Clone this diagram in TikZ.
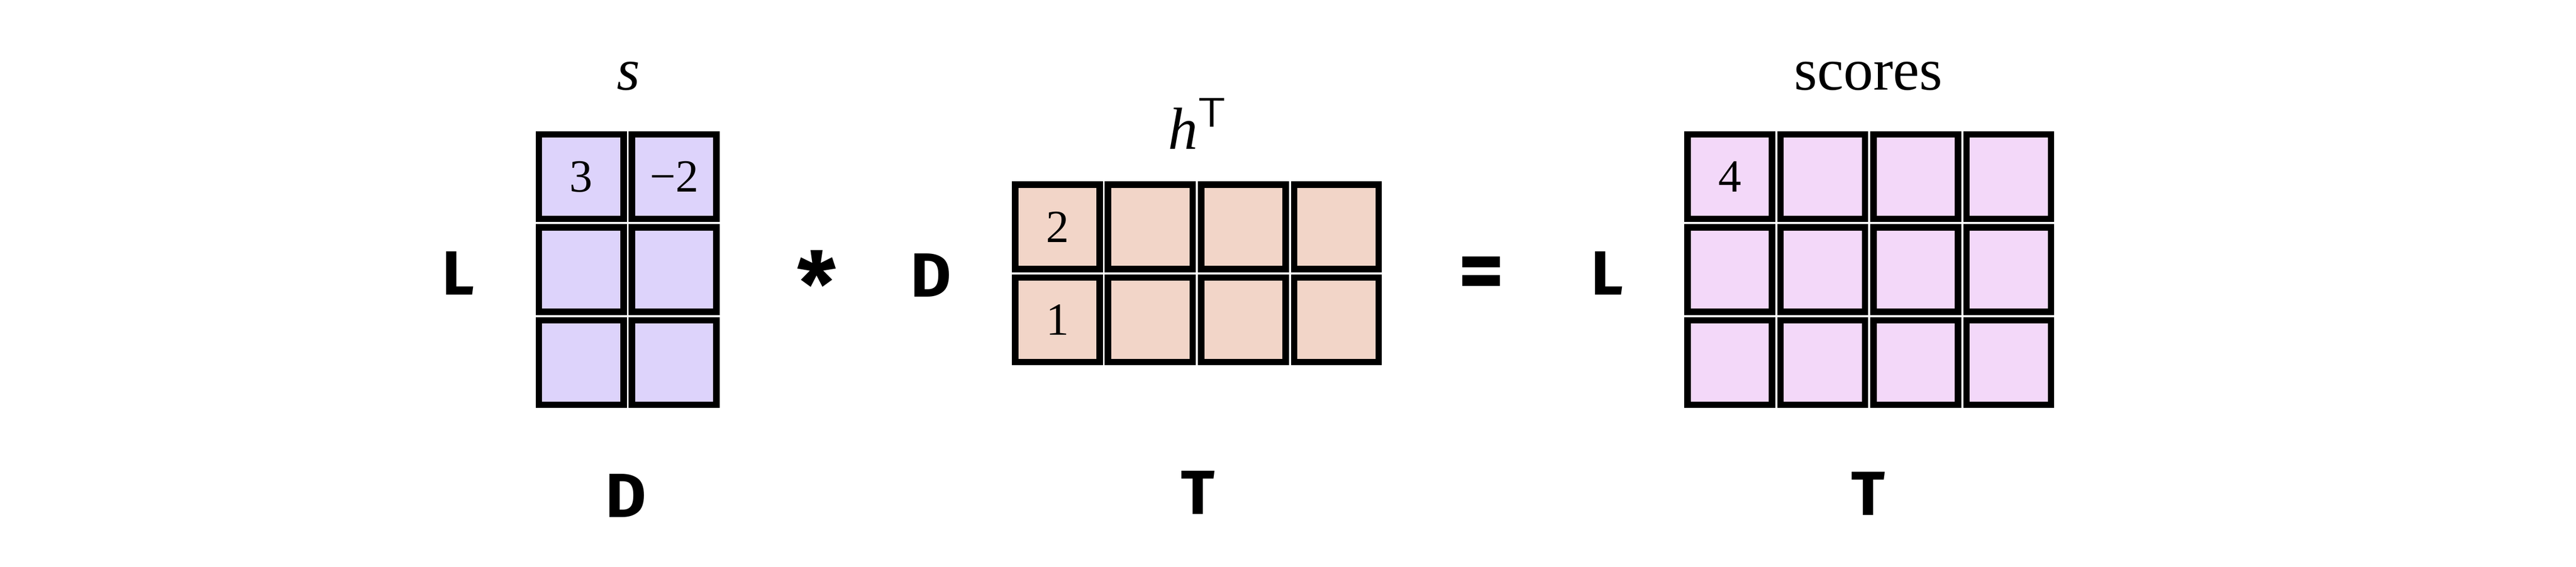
\documentclass[tikz,border=0pt]{standalone}
\usepackage{fontspec}
\setmainfont{Liberation Serif}
\newfontfamily\handfont{Fira Sans}
\usepackage{xcolor}
\usetikzlibrary{positioning}
\definecolor{query}{RGB}{221,211,251}
\definecolor{key}{RGB}{242,213,200}
\definecolor{score}{RGB}{243,216,249}
\tikzstyle{cell}=[rectangle, draw=black, line width=2.2pt, minimum size=1.0cm, inner sep=0pt, font=\fontsize{15.5}{18}\selectfont]
\tikzstyle{matname}=[font=\fontsize{20}{24}\selectfont]
\tikzstyle{dimlabel}=[font=\handfont\bfseries\fontsize{21}{25}\selectfont]
\tikzstyle{oplabel}=[font=\handfont\bfseries\fontsize{30}{36}\selectfont]
\tikzset{y=-1.1cm}
\tikzset{x=1.1cm}

\begin{document}
\begin{tikzpicture}
  \useasboundingbox (0,0) rectangle (27.70,6.098);

  %% s
  \draw (6.25,1.9) node[cell,fill=query] (S11) {3};
  \draw (7.25,1.9) node[cell,fill=query] (S12) {−2};
  \draw (6.25,2.9) node[cell,fill=query] (S21) {};
  \draw (7.25,2.9) node[cell,fill=query] (S22) {};
  \draw (6.25,3.9) node[cell,fill=query] (S31) {};
  \draw (7.25,3.9) node[cell,fill=query] (S32) {};

  %% h transposed
  \draw (11.37,2.44) node[cell,fill=key] (H11) {2};
  \draw (12.37,2.44) node[cell,fill=key] (H12) {};
  \draw (13.37,2.44) node[cell,fill=key] (H13) {};
  \draw (14.37,2.44) node[cell,fill=key] (H14) {};
  \draw (11.37,3.44) node[cell,fill=key] (H21) {1};
  \draw (12.37,3.44) node[cell,fill=key] (H22) {};
  \draw (13.37,3.44) node[cell,fill=key] (H23) {};
  \draw (14.37,3.44) node[cell,fill=key] (H24) {};

  %% scores
  \draw (18.60,1.9) node[cell,fill=score] (C11) {4};
  \draw (19.60,1.9) node[cell,fill=score] (C12) {};
  \draw (20.60,1.9) node[cell,fill=score] (C13) {};
  \draw (21.60,1.9) node[cell,fill=score] (C14) {};
  \draw (18.60,2.9) node[cell,fill=score] (C21) {};
  \draw (19.60,2.9) node[cell,fill=score] (C22) {};
  \draw (20.60,2.9) node[cell,fill=score] (C23) {};
  \draw (21.60,2.9) node[cell,fill=score] (C24) {};
  \draw (18.60,3.9) node[cell,fill=score] (C31) {};
  \draw (19.60,3.9) node[cell,fill=score] (C32) {};
  \draw (20.60,3.9) node[cell,fill=score] (C33) {};
  \draw (21.60,3.9) node[cell,fill=score] (C34) {};

  %% Names
  \draw (6.76,0.82) node[matname] (sname) {\textit{s}};
  \draw (12.88,1.33) node[matname] (hname) {\textit{h}\textsuperscript{\sffamily T}};
  \draw (20.09,0.82) node[matname] (cname) {scores};

  %% Dimensions and operators
  \draw (4.93,2.94) node[dimlabel] (Ls) {L};
  \draw (6.73,5.33) node[dimlabel] (Ds) {D};
  \draw (8.78,3.05) node[oplabel] (times) {*};
  \draw (10.01,2.96) node[dimlabel] (Dh) {D};
  \draw (12.88,5.30) node[dimlabel] (Th) {T};
  \draw (15.93,3.0) node[oplabel] (equals) {=};
  \draw (17.28,2.94) node[dimlabel] (Lc) {L};
  \draw (20.09,5.31) node[dimlabel] (Tc) {T};
\end{tikzpicture}
\end{document}
